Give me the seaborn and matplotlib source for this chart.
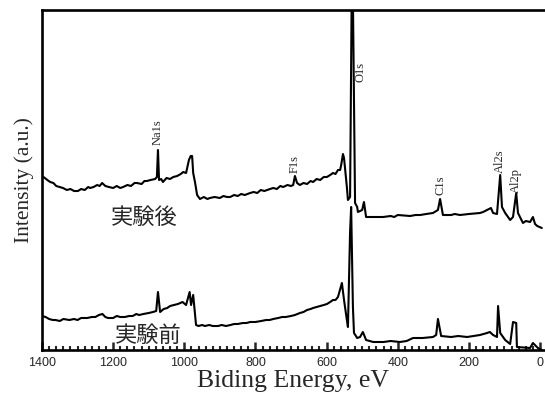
import matplotlib
matplotlib.use("Agg")
import matplotlib.pyplot as plt
import seaborn as sns
import pandas as pd
from matplotlib.ticker import MultipleLocator

# ---- data (binding energy in eV, intensity in arbitrary units) ----
after_energy = [1400, 1392, 1385, 1377, 1368, 1360, 1350, 1341, 1330, 1320, 1310, 1299,
                1290, 1280, 1270, 1265, 1255, 1245, 1238, 1231, 1222, 1212, 1200, 1190,
                1180, 1172, 1160, 1150, 1140, 1133, 1120, 1112, 1105, 1095, 1082, 1077,
                1074, 1071, 1065, 1060, 1050, 1040, 1031, 1020, 1010, 1003, 995, 987,
                982, 978, 975, 970, 964, 956, 945, 935, 928, 915, 900, 890, 880, 871,
                860, 850, 840, 830, 815, 805, 795, 785, 775, 759, 750, 740, 730, 722,
                710, 700, 694, 689, 683, 675, 665, 655, 645, 638, 628, 618, 608, 599,
                590, 582, 575, 568, 562, 559, 554, 551, 543, 540, 534, 528, 520, 514,
                512, 500, 495, 489, 441, 420, 410, 400, 365, 350, 337, 320, 301, 287,
                281, 273, 250, 240, 225, 200, 169, 160, 149, 138, 132, 121, 112, 107,
                98, 84, 76, 67, 62, 48, 40, 28, 20, 14, 8, -5]
after_intensity = [174, 172, 170, 168, 167, 164, 163, 162, 160, 161, 159, 159,
                   161, 160, 163, 162, 163, 165, 164, 167, 164, 163, 162, 164,
                   162, 163, 165, 164, 167, 167, 166, 169, 169, 170, 171, 173,
                   200, 170, 171, 168, 172, 171, 173, 174, 176, 178, 177, 190,
                   194, 194, 177, 168, 155, 151, 153, 151, 152, 153, 152, 154, 153, 153,
                   155, 154, 156, 155, 157, 158, 157, 160, 159, 161, 162, 161, 164, 163,
                   165, 164, 165, 174, 167, 165, 167, 166, 169, 168, 171, 170, 173, 173,
                   175, 177, 176, 180, 180, 185, 196, 192, 163, 150, 153, 420, 147, 143,
                   138, 140, 148, 133, 133, 134, 133, 135, 134, 135, 135, 136, 137, 140,
                   151, 135, 135, 136, 135, 136, 137, 138, 140, 142, 137, 136, 175, 143,
                   137, 130, 133, 157, 137, 127, 129, 128, 133, 126, 124, 122]

before_energy = [1400, 1390, 1380, 1370, 1362, 1350, 1340, 1323, 1310, 1300, 1290, 1273,
                 1260, 1250, 1240, 1230, 1222, 1214, 1200, 1190, 1180, 1167, 1155, 1145,
                 1135, 1127, 1115, 1100, 1088, 1079, 1074, 1068, 1058, 1048, 1040, 1029,
                 1018, 1005, 995, 985, 981, 975, 967, 960, 950, 942, 930, 920, 905, 895,
                 883, 870, 860, 850, 835, 825, 815, 800, 784, 770, 760, 750, 736, 725,
                 715, 700, 689, 675, 665, 655, 645, 638, 628, 618, 608, 599, 590, 582,
                 575, 568, 557, 551, 543, 540, 534, 531, 526, 523, 514, 506, 498, 489,
                 469, 440, 420, 394, 375, 357, 330, 301, 292, 287, 278, 250, 230, 205,
                 169, 149, 141, 132, 121, 118, 112, 98, 84, 76, 67, 65, 28, 20, 6, -5]
before_intensity = [34, 33, 31, 30, 30, 29, 31, 30, 31, 30, 32, 32,
                    33, 33, 35, 36, 33, 32, 32, 34, 33, 33, 34, 34,
                    36, 35, 36, 37, 38, 39, 58, 38, 41, 42, 44, 45,
                    46, 48, 45, 58, 45, 55, 25, 24, 25, 24, 25, 24, 24, 25,
                    24, 25, 26, 26, 27, 27, 28, 28, 29, 30, 30, 31, 32, 33,
                    33, 34, 35, 37, 38, 40, 41, 42, 43, 44, 45, 46, 48, 50,
                    50, 53, 67, 50, 30, 23, 118, 143, 43, 17, 12, 13, 18, 10,
                    8, 8, 9, 8, 9, 12, 12, 13, 15, 31, 14, 13, 14, 13,
                    15, 17, 18, 15, 13, 44, 17, 10, 6, 28, 27, 3, 2, 7, 2, 0]

peak_labels = ["Na1s", "F1s", "O1s", "C1s", "Al2s", "Al2p"]
peak_energy = [1074, 689, 506, 281, 112, 67]
peak_text_y = [205, 177, 268, 155, 177, 157]

sample_labels = ["実験後", "実験前"]
sample_energy = [1112, 1102]
sample_y = [133, 15]

x_ticks = [1400, 1200, 1000, 800, 600, 400, 200, 0]

# ---- figure ----
sns.set_style("ticks")
plt.rcParams["font.family"] = ["Liberation Serif", "DejaVu Serif"]

fig = plt.figure(figsize=(5.45, 3.97), dpi=100)
ax = fig.add_axes([42 / 545, 47 / 397, 501.6 / 545, 340 / 397])

df_after = pd.DataFrame({"energy": after_energy, "intensity": after_intensity})
df_before = pd.DataFrame({"energy": before_energy, "intensity": before_intensity})

sns.lineplot(data=df_after, x="energy", y="intensity", sort=False, estimator=None,
             color="black", linewidth=1.5, ax=ax)
sns.lineplot(data=df_before, x="energy", y="intensity", sort=False, estimator=None,
             color="black", linewidth=1.5, ax=ax)

ax.set_xlim(1400, -10)
ax.set_ylim(0, 340)

ax.set_xticks(x_ticks)
ax.set_xticklabels([str(t) for t in x_ticks], family=["Liberation Sans", "DejaVu Sans"],
                   fontsize=9)
ax.xaxis.set_minor_locator(MultipleLocator(20))
ax.tick_params(axis="x", which="major", direction="in", length=6, width=1.8, pad=5)
ax.tick_params(axis="x", which="minor", direction="in", length=3, width=1.5)
ax.set_yticks([])

for side in ["left", "top", "bottom"]:
    ax.spines[side].set_linewidth(1.9)
    ax.spines[side].set_color("black")
ax.spines["right"].set_visible(False)

ax.set_xlabel("Biding Energy, eV", fontsize=18.5, labelpad=1)
ax.set_ylabel("Intensity (a.u.)", fontsize=15.5, labelpad=6)

for lab, e, y in zip(peak_labels, peak_energy, peak_text_y):
    ax.text(e, y, lab, rotation=90, ha="center", va="bottom", fontsize=9)

for lab, e, y in zip(sample_labels, sample_energy, sample_y):
    ax.text(e, y, lab, ha="center", va="center", fontsize=16,
            family=["Noto Sans CJK JP", "DejaVu Sans"])

fig.savefig("out.png", dpi=100)
